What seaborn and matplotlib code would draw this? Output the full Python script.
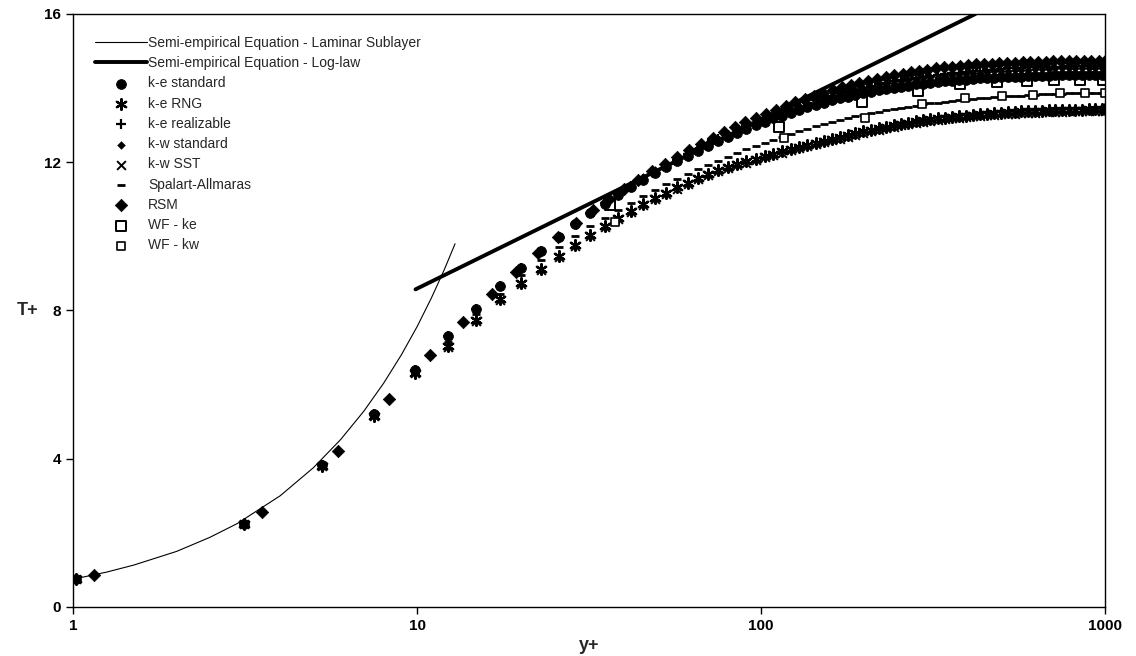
import matplotlib
matplotlib.use("Agg")
import matplotlib.pyplot as plt
from matplotlib.ticker import NullLocator
import seaborn as sns

# semi-empirical curves
lam_y = [1.0, 1.25, 1.5, 2.0, 2.5, 3.0, 4.0, 5.0, 6.0, 7.0, 8.0, 9.0, 10.0, 11.0, 12.0, 12.9]
lam_t = [0.75, 0.94, 1.13, 1.5, 1.88, 2.25, 3.0, 3.76, 4.52, 5.28, 6.04, 6.8, 7.56, 8.33, 9.1, 9.8]
log_y = [9.9, 420.0]
log_t = [8.57, 16.0]

# y+ of the fine-mesh cells (k-e, k-w and Spalart-Allmaras runs)
y_plus = [1.02, 3.15, 5.3, 7.5, 9.85, 12.3, 14.8, 17.4, 20.1, 22.9,
          25.8, 28.8, 31.9, 35.1, 38.4, 41.8, 45.4, 49.1, 53.0, 57.0,
          61.2, 65.6, 70.2, 75.0, 80.0, 85.2, 90.7, 96.4, 102.4, 108.6,
          115.1, 121.9, 129.0, 136.4, 144.1, 152.2, 160.6, 169.4, 178.6, 188.2,
          198.2, 208.7, 219.6, 231.0, 242.9, 255.3, 268.3, 281.8, 295.9, 310.6,
          326.0, 342.0, 358.7, 376.2, 394.4, 413.4, 433.2, 453.9, 475.5, 498.0,
          521.5, 546.0, 571.6, 598.3, 626.2, 655.3, 685.6, 717.2, 750.2, 784.6,
          820.5, 858.0, 897.1, 937.9, 980.5, 1000.0]

t_ke_std = [0.75, 2.25, 3.82, 5.2, 6.4, 7.3, 8.05, 8.65, 9.15, 9.6,
            9.98, 10.32, 10.62, 10.88, 11.12, 11.33, 11.53, 11.71, 11.88, 12.03,
            12.17, 12.31, 12.44, 12.56, 12.68, 12.79, 12.9, 13.0, 13.09, 13.18,
            13.26, 13.34, 13.41, 13.48, 13.55, 13.61, 13.67, 13.72, 13.77, 13.82,
            13.86, 13.9, 13.94, 13.98, 14.01, 14.04, 14.07, 14.1, 14.12, 14.14,
            14.16, 14.18, 14.2, 14.22, 14.23, 14.25, 14.26, 14.27, 14.28, 14.29,
            14.3, 14.31, 14.31, 14.32, 14.32, 14.33, 14.33, 14.34, 14.34, 14.34,
            14.35, 14.35, 14.35, 14.35, 14.35, 14.35]

t_ke_rng = [0.75, 2.25, 3.8, 5.15, 6.3, 7.05, 7.75, 8.3, 8.75, 9.12,
            9.46, 9.76, 10.03, 10.28, 10.5, 10.69, 10.87, 11.03, 11.18, 11.32,
            11.45, 11.57, 11.68, 11.79, 11.88, 11.95, 12.02, 12.09, 12.16, 12.23,
            12.29, 12.35, 12.41, 12.47, 12.53, 12.58, 12.63, 12.68, 12.73, 12.78,
            12.83, 12.87, 12.92, 12.96, 13.0, 13.04, 13.07, 13.1, 13.13, 13.16,
            13.18, 13.2, 13.22, 13.24, 13.26, 13.28, 13.3, 13.31, 13.32, 13.33,
            13.35, 13.36, 13.37, 13.38, 13.38, 13.39, 13.4, 13.4, 13.41, 13.41,
            13.42, 13.42, 13.43, 13.43, 13.44, 13.44]

t_ke_real = [0.75, 2.25, 3.82, 5.2, 6.4, 7.3, 8.05, 8.65, 9.15, 9.6,
             9.98, 10.32, 10.62, 10.89, 11.14, 11.35, 11.56, 11.74, 11.92, 12.07,
             12.22, 12.36, 12.5, 12.62, 12.74, 12.86, 12.97, 13.07, 13.17, 13.27,
             13.36, 13.44, 13.52, 13.6, 13.67, 13.74, 13.8, 13.86, 13.91, 13.96,
             14.01, 14.06, 14.1, 14.14, 14.18, 14.22, 14.25, 14.28, 14.31, 14.33,
             14.36, 14.38, 14.4, 14.42, 14.44, 14.46, 14.47, 14.49, 14.5, 14.51,
             14.53, 14.54, 14.55, 14.56, 14.56, 14.57, 14.57, 14.58, 14.58, 14.59,
             14.59, 14.6, 14.6, 14.6, 14.6, 14.6]

t_kw_std = [0.75, 2.25, 3.82, 5.2, 6.4, 7.3, 8.05, 8.65, 9.15, 9.6,
            9.98, 10.33, 10.64, 10.92, 11.17, 11.39, 11.6, 11.79, 11.96, 12.11,
            12.25, 12.39, 12.52, 12.64, 12.76, 12.87, 12.98, 13.08, 13.18, 13.27,
            13.36, 13.44, 13.51, 13.58, 13.65, 13.72, 13.78, 13.84, 13.89, 13.94,
            13.99, 14.03, 14.07, 14.11, 14.15, 14.18, 14.21, 14.24, 14.27, 14.29,
            14.31, 14.33, 14.35, 14.37, 14.39, 14.41, 14.42, 14.44, 14.45, 14.46,
            14.47, 14.48, 14.49, 14.5, 14.51, 14.52, 14.52, 14.53, 14.53, 14.54,
            14.54, 14.55, 14.55, 14.55, 14.55, 14.55]

t_kw_sst = [0.75, 2.25, 3.8, 5.15, 6.3, 7.02, 7.72, 8.27, 8.72, 9.09,
            9.43, 9.73, 10.0, 10.25, 10.47, 10.66, 10.84, 11.0, 11.15, 11.29,
            11.42, 11.54, 11.65, 11.76, 11.85, 11.92, 11.99, 12.06, 12.13, 12.2,
            12.26, 12.32, 12.38, 12.44, 12.49, 12.54, 12.59, 12.64, 12.69, 12.74,
            12.79, 12.83, 12.88, 12.92, 12.96, 13.0, 13.03, 13.06, 13.09, 13.12,
            13.14, 13.16, 13.18, 13.2, 13.22, 13.24, 13.26, 13.27, 13.28, 13.29,
            13.3, 13.31, 13.32, 13.33, 13.34, 13.35, 13.35, 13.36, 13.36, 13.37,
            13.37, 13.38, 13.38, 13.38, 13.38, 13.38]

t_sa = [0.75, 2.25, 3.8, 5.17, 6.35, 7.15, 7.9, 8.45, 8.95, 9.35,
        9.7, 10.0, 10.27, 10.5, 10.72, 10.91, 11.09, 11.26, 11.41, 11.55,
        11.68, 11.81, 11.93, 12.04, 12.15, 12.25, 12.35, 12.44, 12.53, 12.61,
        12.69, 12.77, 12.84, 12.91, 12.97, 13.03, 13.09, 13.14, 13.19, 13.24,
        13.28, 13.32, 13.36, 13.4, 13.44, 13.47, 13.5, 13.53, 13.56, 13.59,
        13.61, 13.63, 13.65, 13.67, 13.69, 13.71, 13.73, 13.74, 13.76, 13.77,
        13.78, 13.79, 13.8, 13.81, 13.82, 13.83, 13.84, 13.85, 13.85, 13.86,
        13.86, 13.87, 13.87, 13.87, 13.88, 13.88]

# RSM run sits on its own y+ values
y_plus_rsm = [1.15, 3.55, 5.9, 8.3, 10.9, 13.6, 16.5, 19.4, 22.5, 25.7,
              29.0, 32.5, 36.1, 39.9, 43.9, 48.1, 52.5, 57.1, 61.9, 67.0,
              72.3, 77.9, 83.8, 90.0, 96.5, 103.3, 110.4, 117.9, 125.8, 134.1,
              142.8, 151.9, 161.5, 171.6, 182.2, 193.3, 205.0, 217.3, 230.2, 243.7,
              257.9, 272.8, 288.4, 304.8, 322.0, 340.0, 358.9, 378.7, 399.5, 421.3,
              444.2, 468.2, 493.4, 519.8, 547.5, 576.5, 607.0, 639.0, 672.5, 707.7,
              744.6, 783.3, 823.9, 866.5, 911.2, 958.1, 1000.0]
t_rsm = [0.85, 2.55, 4.2, 5.6, 6.8, 7.7, 8.45, 9.05, 9.55, 9.98,
         10.36, 10.7, 11.0, 11.27, 11.52, 11.75, 11.96, 12.15, 12.33, 12.5,
         12.66, 12.81, 12.95, 13.08, 13.2, 13.31, 13.42, 13.52, 13.62, 13.71,
         13.8, 13.88, 13.95, 14.02, 14.08, 14.14, 14.2, 14.25, 14.3, 14.35,
         14.39, 14.43, 14.47, 14.5, 14.53, 14.56, 14.58, 14.6, 14.62, 14.64,
         14.65, 14.66, 14.67, 14.68, 14.69, 14.7, 14.7, 14.71, 14.71, 14.72,
         14.72, 14.72, 14.72, 14.72, 14.72, 14.72, 14.72]

# wall-function runs (coarse mesh)
y_wf_ke = [36.5, 113.0, 196.0, 286.0, 380.0, 485.0, 595.0, 710.0, 845.0, 985.0]
t_wf_ke = [10.85, 12.95, 13.63, 13.93, 14.12, 14.17, 14.2, 14.22, 14.22, 14.22]
y_wf_kw = [37.6, 117.0, 200.0, 294.0, 392.0, 502.0, 618.0, 740.0, 875.0, 1000.0]
t_wf_kw = [10.4, 12.65, 13.2, 13.57, 13.73, 13.8, 13.82, 13.87, 13.87, 13.87]

#%%
sns.set_style("ticks")
plt.rcParams["font.family"] = ["Liberation Sans", "DejaVu Sans"]

fig, ax = plt.subplots(figsize=(11.36, 6.56), dpi=100)
fig.subplots_adjust(left=0.0643, right=0.9727, bottom=0.0747, top=0.9787)
ax.set_xscale("log")

sns.lineplot(x=lam_y, y=lam_t, color="black", linewidth=0.8, ax=ax, zorder=1,
             label="Semi-empirical Equation - Laminar Sublayer")
sns.lineplot(x=log_y, y=log_t, color="black", linewidth=2.8, ax=ax, zorder=1,
             label="Semi-empirical Equation - Log-law")

series = [
    ("k-e standard", y_plus, t_ke_std, dict(marker="o", s=50, color="black", edgecolor="black")),
    ("k-e RNG", y_plus, t_ke_rng, dict(marker=(6, 2, 0), s=60, color="black", linewidth=1.6)),
    ("k-e realizable", y_plus, t_ke_real, dict(marker="+", s=55, color="black", linewidth=1.6)),
    ("k-w standard", y_plus, t_kw_std, dict(marker="D", s=16, color="black", edgecolor="black")),
    ("k-w SST", y_plus, t_kw_sst, dict(marker="x", s=40, color="black", linewidth=1.4)),
    ("Spalart-Allmaras", y_plus, t_sa, dict(marker="_", s=40, color="black", linewidth=2.0)),
    ("RSM", y_plus_rsm, t_rsm, dict(marker="D", s=40, color="black", edgecolor="black")),
    ("WF - ke", y_wf_ke, t_wf_ke, dict(marker="s", s=55, color="white", edgecolor="black",
                                        linewidth=1.4, zorder=1.5)),
    ("WF - kw", y_wf_kw, t_wf_kw, dict(marker="s", s=40, color="white", edgecolor="black", linewidth=1.2)),
]
for name, xs, ys, kw in series:
    kw.setdefault("zorder", 2)
    sns.scatterplot(x=xs, y=ys, label=name, ax=ax, **kw)

ax.set_xlim(1, 1000)
ax.set_ylim(0, 16)
ax.set_xticks([1, 10, 100, 1000])
ax.set_xticklabels(["1", "10", "100", "1000"])
ax.xaxis.set_minor_locator(NullLocator())
ax.set_yticks([0, 4, 8, 12, 16])
ax.tick_params(direction="out", length=5, width=1, labelsize=11, colors="black")
plt.setp(ax.get_xticklabels() + ax.get_yticklabels(), fontweight="bold")
for sp in ax.spines.values():
    sp.set_visible(True)
    sp.set_color("black")
    sp.set_linewidth(1.0)

ax.set_xlabel("y+", fontsize=13, fontweight="bold")
ax.set_ylabel("T+", fontsize=13, fontweight="bold", rotation=0, ha="center", va="center")
ax.xaxis.set_label_coords(0.5, -0.05)
ax.yaxis.set_label_coords(-0.044, 0.5)

ax.legend(loc="upper left", bbox_to_anchor=(0.021, 0.963), frameon=False,
          fontsize=10, handlelength=3.8, handletextpad=0.05, labelspacing=0.45,
          borderpad=0, borderaxespad=0, scatterpoints=1)

plt.savefig("out.png", dpi=100)
